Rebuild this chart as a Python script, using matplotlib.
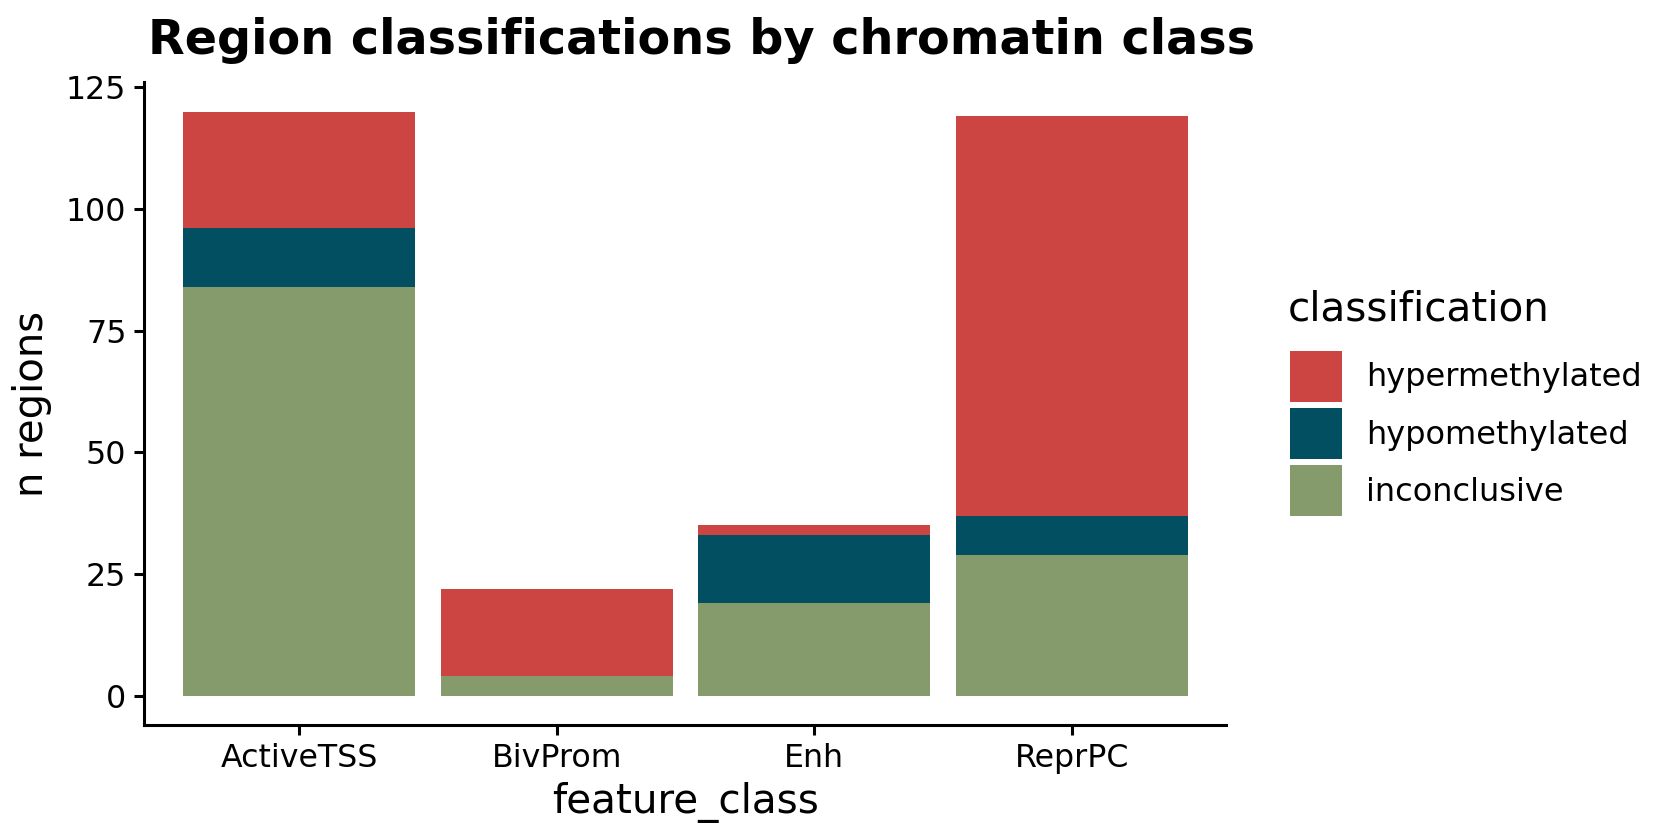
import matplotlib
matplotlib.use("Agg")
import matplotlib.pyplot as plt
import numpy as np
from matplotlib.patches import Patch

# data
feature_class = ["ActiveTSS", "BivProm", "Enh", "ReprPC"]
inconclusive = [84, 4, 19, 29]
hypomethylated = [12, 0, 14, 8]
hypermethylated = [24, 18, 2, 82]

colors = {"hypermethylated": "#CD4543",
          "hypomethylated": "#034F62",
          "inconclusive": "#869B6B"}

plt.rcParams['font.family'] = ['DejaVu Sans']

fig = plt.figure(figsize=(8.4, 4.2), dpi=200)
ax = fig.add_axes([0.086, 0.137, 0.644, 0.765])

x = np.arange(1, len(feature_class) + 1)
inc = np.array(inconclusive)
hypo = np.array(hypomethylated)
hyper = np.array(hypermethylated)

ax.bar(x, inc, width=0.9, color=colors["inconclusive"], linewidth=0)
ax.bar(x, hypo, width=0.9, bottom=inc, color=colors["hypomethylated"], linewidth=0)
ax.bar(x, hyper, width=0.9, bottom=inc + hypo, color=colors["hypermethylated"], linewidth=0)

ax.set_xlim(0.4, 4.6)
ax.set_ylim(-6, 126)
ax.set_yticks([0, 25, 50, 75, 100, 125])
ax.set_xticks(x)
ax.set_xticklabels(feature_class)

for s in ["top", "right"]:
    ax.spines[s].set_visible(False)
for s in ["left", "bottom"]:
    ax.spines[s].set_linewidth(1.1)
ax.tick_params(axis="both", length=3.5, width=1.1, labelsize=11.4, colors="black", pad=3)

ax.set_xlabel("feature_class", fontsize=14.6, labelpad=3)
ax.set_ylabel("n regions", fontsize=14.5, labelpad=5)
fig.text(0.088, 0.952, "Region classifications by chromatin class",
         fontsize=17.2, fontweight="bold", ha="left", va="center")

# legend: title placed separately so the gap above the keys matches
handles = [Patch(facecolor=colors[k], edgecolor="none", label=k)
           for k in ["hypermethylated", "hypomethylated", "inconclusive"]]
fig.legend(handles=handles, loc="center left",
           bbox_to_anchor=(0.7679, 0.484), frameon=False, fontsize=11.5,
           handlelength=1.61, handleheight=2.1, labelspacing=0.178,
           handletextpad=0.77, borderaxespad=0, borderpad=0)
fig.text(0.7666, 0.6314, "classification", fontsize=14.6, ha="left", va="center")

fig.savefig("out.png", dpi=200)
